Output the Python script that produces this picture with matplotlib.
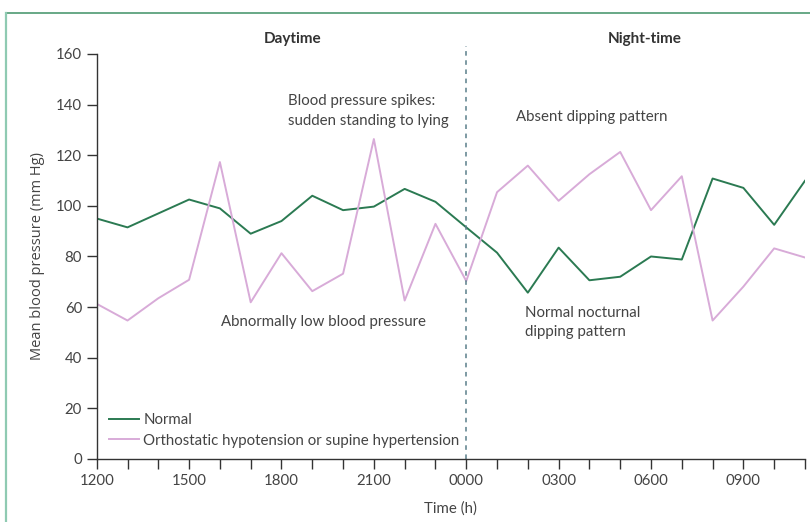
import matplotlib.pyplot as plt
from matplotlib.lines import Line2D

# hours after 1200 (0 = 1200, 12 = 0000, 23 = 1100)
hours = list(range(24))
normal = [95, 91.5, 97, 102.5, 99, 89, 94, 104, 98.3, 99.7, 106.7, 101.6,
          91.5, 81.5, 65.7, 83.5, 70.6, 72, 80, 78.8, 110.8, 107.1, 92.5, 109.9]
orthostatic = [61.3, 54.7, 63.5, 70.8, 117.3, 61.9, 81.3, 66.3, 73.2, 126.4, 62.6, 92.9,
               70.3, 105.4, 115.9, 102, 112.5, 121.3, 98.3, 111.7, 54.7, 68.1, 83.2, 79.6]
tick_labels = ['1200', '', '', '1500', '', '', '1800', '', '', '2100', '', '',
               '0000', '', '', '0300', '', '', '0600', '', '', '0900', '', '']

text_c = '#444444'
green = '#2b7a52'
pink = '#d8abd8'

plt.rcParams['font.family'] = ['Lato', 'DejaVu Sans']
fig = plt.figure(figsize=(8.1, 5.22), dpi=100)
ax = fig.add_axes([0.1194, 0.1207, 0.8744, 0.7759])

ax.plot(hours, normal, color=green, lw=1.4, label='Normal')
ax.plot(hours, orthostatic, color=pink, lw=1.4,
        label='Orthostatic hypotension or supine hypertension')
ax.axvline(12, ymin=0, ymax=1.02, color='#5a7f8a', lw=1.1, ls=(0, (3, 3)), clip_on=False)

ax.set_xlim(0, 23)
ax.set_ylim(0, 160)
ax.set_xticks(hours)
ax.set_xticklabels(tick_labels)
ax.set_yticks(range(0, 161, 20))
for s in ['top', 'right']:
    ax.spines[s].set_visible(False)
for s in ['left', 'bottom']:
    ax.spines[s].set_color('#333333')
    ax.spines[s].set_linewidth(1.0)
ax.tick_params(colors='#333333', labelcolor=text_c, labelsize=10.8, length=7, width=1.0)
ax.set_xlabel('Time (h)', color=text_c, fontsize=10.8, labelpad=10)
ax.set_ylabel('Mean blood pressure (mm Hg)', color=text_c, fontsize=10.5, labelpad=8,
              family=['Open Sans', 'DejaVu Sans'])

ax.text(6.35, 166, 'Daytime', ha='center', va='center', fontsize=11, fontweight='bold', color='#333333')
ax.text(17.8, 166, 'Night-time', ha='center', va='center', fontsize=11, fontweight='bold', color='#333333')
ax.text(6.2, 137.5, 'Blood pressure spikes:\nsudden standing to lying', ha='left', va='center',
        fontsize=10.8, color=text_c, linespacing=1.55)
ax.text(13.6, 135, 'Absent dipping pattern', ha='left', va='center', fontsize=10.8, color=text_c)
ax.text(4.05, 54, 'Abnormally low blood pressure', ha='left', va='center', fontsize=10.8, color=text_c)
ax.text(13.9, 54, 'Normal nocturnal\ndipping pattern', ha='left', va='center',
        fontsize=10.8, color=text_c, linespacing=1.5)

ax.legend(loc='lower left', bbox_to_anchor=(-0.002, -0.005), frameon=False, fontsize=10.8,
          handlelength=2.0, handletextpad=0.3, labelspacing=0.45, labelcolor=text_c)

# figure frame
fig.add_artist(Line2D([0.0075, 1.0], [0.975, 0.975], transform=fig.transFigure, color='#4e9a72', lw=1.2))
fig.add_artist(Line2D([0.0075, 0.0075], [0.0, 0.975], transform=fig.transFigure, color='#8fcab2', lw=1.6))

fig.savefig('out.png', dpi=100)
